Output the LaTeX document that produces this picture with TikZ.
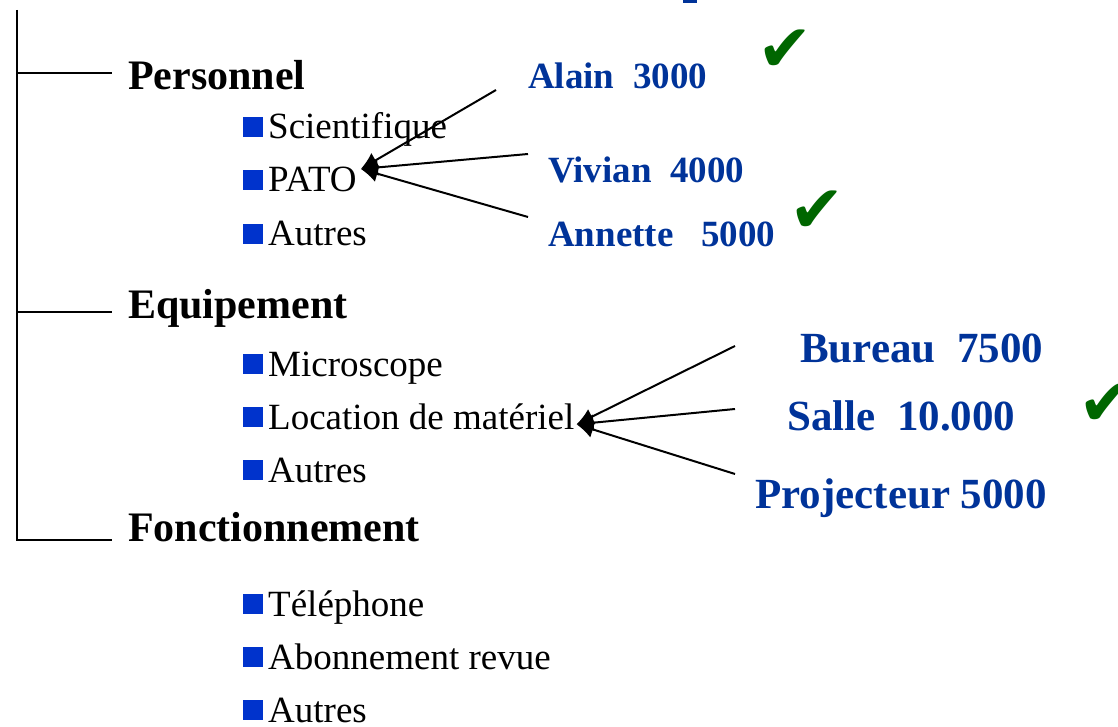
\documentclass[tikz,border=0pt]{standalone}
\usepackage{fontspec}
\setmainfont{Liberation Serif}
\newfontfamily\symbfont{DejaVu Sans}
\usetikzlibrary{positioning,arrows.meta}
\definecolor{nomblue}{RGB}{0,51,153}
\definecolor{puceblue}{RGB}{0,51,204}
\definecolor{vert}{RGB}{0,102,0}
\newcommand{\puce}{\textcolor{puceblue}{\rule[2pt]{20pt}{20pt}}\hspace{5pt}}

\begin{document}
\begin{tikzpicture}[x=1pt, y=-1pt,
  titre/.style = {anchor=base west, inner sep=0pt, font=\fontsize{42}{42}\selectfont\bfseries},
  item/.style = {anchor=base west, inner sep=0pt, font=\fontsize{37}{37}\selectfont},
  nom/.style = {anchor=base west, inner sep=0pt, text=nomblue, font=\fontsize{37}{37}\selectfont\bfseries},
  grandnom/.style = {nom, font=\fontsize{43}{43}\selectfont\bfseries},
  coche/.style = {inner sep=0pt, text=vert, font=\fontsize{66}{66}\symbfont},
  fleche/.style = {-{Latex[length=17pt,width=17pt]}, line width=2pt}]
\useasboundingbox (0,0) rectangle (1118,727);
\fill[nomblue] (683,0) rectangle (697,3);

\node[titre] (pers) at (128,90) {Personnel};
\node[titre] (equip) at (128,318) {Equipement};
\node[titre] (fonct) at (128,541) {Fonctionnement};

\coordinate (haut) at (17,10);
\coordinate (b1) at (112,73);
\coordinate (b2) at (112,312);
\coordinate (b3) at (112,540);
\draw[line width=1.4pt] (haut) |- (b3);
\draw[line width=1.4pt] (haut |- b1) -- (b1);
\draw[line width=1.4pt] (haut |- b2) -- (b2);

\node[item] (sci) at (243,139) {\puce Scientifique};
\node[item] (pato) at (243,192) {\puce PATO};
\node[item] (aut1) at (243,246) {\puce Autres};
\node[item] (micro) at (243,376) {\puce Microscope};
\node[item] (loc) at (243,429) {\puce Location de matériel};
\node[item] (aut2) at (243,482) {\puce Autres};
\node[item] (tel) at (243,616) {\puce Téléphone};
\node[item] (abo) at (243,669) {\puce Abonnement revue};
\node[item] (aut3) at (243,722) {\puce Autres};

\node[nom] (alain) at (528,89) {Alain\ \ 3000};
\node[nom] (vivian) at (548,183) {Vivian\ \ 4000};
\node[nom] (annette) at (548,247) {Annette\ \ \ 5000};
\node[grandnom] (bureau) at (800,362) {Bureau\ \ 7500};
\node[grandnom] (salle) at (787,430) {Salle\ \ 10.000};
\node[grandnom] (proj) at (755,508) {Projecteur 5000};

\node[coche] (ok1) at (785,51) {✔};
\node[coche] (ok2) at (817,212) {✔};
\node[coche] (ok3) at (1106,405) {✔};

\coordinate (patotip) at ([shift={(4,-11)}]pato.east);
\coordinate (loctip) at ([shift={(2,8)}]loc.east);
\coordinate (a1) at (496,90);
\coordinate (a2) at (528,154);
\coordinate (a3) at (528,217);
\coordinate (c1) at (735,346);
\coordinate (c2) at (735,409);
\coordinate (c3) at (735,474);
\draw[fleche] (a1) -- (patotip);
\draw[fleche] (a2) -- (patotip);
\draw[fleche] (a3) -- (patotip);
\draw[fleche] (c1) -- (loctip);
\draw[fleche] (c2) -- (loctip);
\draw[fleche] (c3) -- (loctip);
\end{tikzpicture}
\end{document}
